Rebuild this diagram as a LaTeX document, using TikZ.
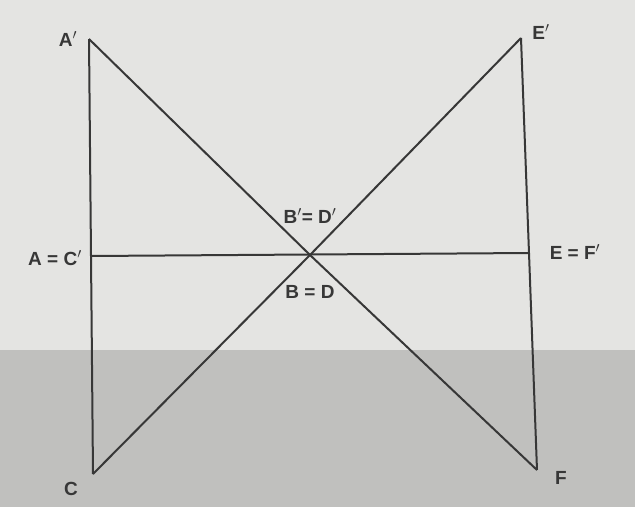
\documentclass[tikz,border=0pt]{standalone}
\usepackage{fontspec}
\setmainfont{Liberation Sans}
\usepackage{tikz}
\usetikzlibrary{calc}
\definecolor{paperlight}{RGB}{228, 228, 226}
\definecolor{paperdark}{RGB}{192, 192, 190}
\definecolor{ink}{RGB}{55, 55, 55}

\begin{document}
\begin{tikzpicture}[x=1pt, y=-1pt, line width=2pt,
  lbl/.style={font=\fontsize{19}{22}\selectfont\bfseries, text=ink, inner sep=1pt}]
  % Paper
  \fill[paperlight] (0,0) rectangle (635,507);
  \fill[paperdark] (0,350) rectangle (635,507);
  \useasboundingbox (0,0) rectangle (635,507);

  % Coordinates
  \coordinate (Ap) at (89, 39);
  \coordinate (Ep) at (521, 38);
  \coordinate (AC) at (91, 256);
  \coordinate (EF) at (529, 253);
  \coordinate (O) at (310, 255);
  \coordinate (C) at (93, 474);
  \coordinate (F) at (537, 470);

  % Left and right sides
  \draw[ink] (Ap) -- (AC) -- (C);
  \draw[ink] (Ep) -- (EF) -- (F);

  % Diagonals
  \draw[ink] (Ap) -- (O) -- (F);
  \draw[ink] (Ep) -- (O) -- (C);

  % Middle line
  \draw[ink] (AC) -- (EF);

  % Point labels
  \node[lbl] (lAp) at (68, 39) {A$'$};
  \node[lbl] (lEp) at (541, 32) {E$'$};
  \node[lbl] (lAC) at (55, 258) {A = C$'$};
  \node[lbl] (lEF) at (575, 252) {E = F$'$};
  \node[lbl] (lBD) at (310, 216) {B$'$= D$'$};
  \node[lbl] (lB) at (310, 292) {B = D};
  \node[lbl] (lC) at (71, 489) {C};
  \node[lbl] (lF) at (561, 478) {F};
\end{tikzpicture}
\end{document}
